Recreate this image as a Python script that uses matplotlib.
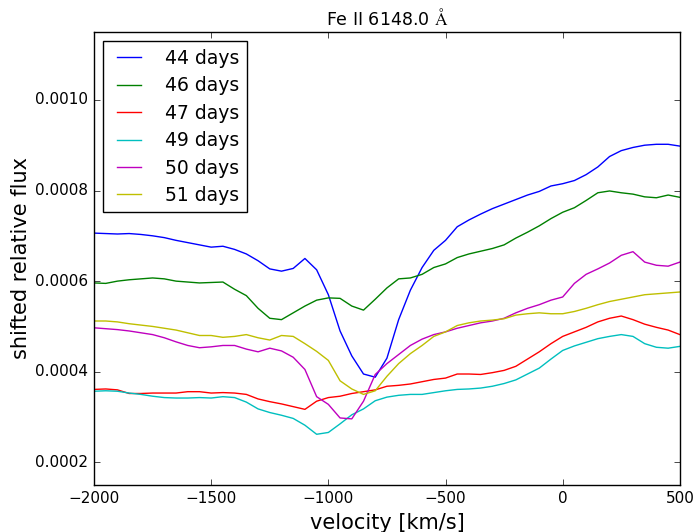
import numpy as np
import matplotlib
matplotlib.use("Agg")
import matplotlib.pyplot as plt

# velocity grid [km/s], flux values in units of 1e-4
velocity = np.arange(-2000, 501, 50)

flux_44 = [7.06, 7.05, 7.04, 7.05, 7.03, 7.00, 6.96, 6.90, 6.85, 6.80, 6.75, 6.77, 6.70,
           6.60, 6.45, 6.27, 6.22, 6.28, 6.50, 6.25, 5.70, 4.90, 4.35, 3.95, 3.88, 4.30,
           5.15, 5.80, 6.30, 6.68, 6.90, 7.20, 7.35, 7.48, 7.60, 7.70, 7.80, 7.90, 7.98,
           8.10, 8.15, 8.22, 8.35, 8.52, 8.75, 8.88, 8.95, 9.00, 9.02, 9.02, 8.98]
flux_46 = [5.96, 5.95, 6.00, 6.03, 6.05, 6.07, 6.05, 6.00, 5.98, 5.96, 5.97, 5.98, 5.82,
           5.68, 5.40, 5.18, 5.15, 5.30, 5.45, 5.58, 5.63, 5.62, 5.45, 5.36, 5.60, 5.85,
           6.05, 6.07, 6.15, 6.30, 6.38, 6.52, 6.60, 6.66, 6.72, 6.80, 6.95, 7.08, 7.22,
           7.38, 7.52, 7.62, 7.78, 7.95, 7.99, 7.95, 7.92, 7.86, 7.84, 7.90, 7.85]
flux_47 = [3.61, 3.62, 3.60, 3.52, 3.52, 3.53, 3.53, 3.53, 3.56, 3.56, 3.53, 3.54, 3.53,
           3.50, 3.40, 3.34, 3.29, 3.23, 3.17, 3.35, 3.43, 3.46, 3.52, 3.56, 3.60, 3.68,
           3.70, 3.73, 3.78, 3.83, 3.86, 3.95, 3.95, 3.94, 3.98, 4.03, 4.12, 4.28, 4.44,
           4.62, 4.78, 4.88, 4.98, 5.10, 5.18, 5.23, 5.15, 5.05, 4.98, 4.92, 4.82]
flux_49 = [3.57, 3.58, 3.57, 3.53, 3.50, 3.46, 3.43, 3.42, 3.42, 3.43, 3.42, 3.45, 3.43,
           3.33, 3.18, 3.10, 3.04, 2.97, 2.82, 2.62, 2.66, 2.85, 3.05, 3.18, 3.36, 3.44,
           3.48, 3.50, 3.50, 3.54, 3.58, 3.61, 3.62, 3.64, 3.68, 3.74, 3.82, 3.95, 4.08,
           4.28, 4.47, 4.57, 4.65, 4.73, 4.78, 4.82, 4.78, 4.62, 4.54, 4.52, 4.56]
flux_50 = [4.97, 4.95, 4.93, 4.90, 4.86, 4.82, 4.75, 4.66, 4.58, 4.53, 4.55, 4.58, 4.58,
           4.50, 4.44, 4.52, 4.46, 4.32, 4.05, 3.45, 3.28, 2.98, 2.96, 3.35, 3.94, 4.18,
           4.38, 4.58, 4.72, 4.82, 4.88, 4.96, 5.02, 5.08, 5.12, 5.18, 5.30, 5.40, 5.48,
           5.58, 5.65, 5.95, 6.15, 6.27, 6.40, 6.57, 6.65, 6.42, 6.35, 6.33, 6.42]
flux_51 = [5.12, 5.12, 5.10, 5.06, 5.03, 5.00, 4.96, 4.92, 4.86, 4.80, 4.80, 4.76, 4.78,
           4.82, 4.75, 4.70, 4.80, 4.78, 4.62, 4.45, 4.25, 3.80, 3.62, 3.50, 3.58, 3.90,
           4.18, 4.40, 4.58, 4.78, 4.88, 5.02, 5.08, 5.12, 5.14, 5.17, 5.25, 5.28, 5.30,
           5.28, 5.28, 5.33, 5.40, 5.48, 5.55, 5.60, 5.65, 5.70, 5.72, 5.74, 5.76]

labels = ["44 days", "46 days", "47 days", "49 days", "50 days", "51 days"]
colors = ["b", "g", "r", "c", "m", "y"]
series = [flux_44, flux_46, flux_47, flux_49, flux_50, flux_51]

plt.style.use("classic")
fig = plt.figure(figsize=(6.98, 5.32), dpi=100, facecolor="white")
ax = fig.add_axes([0.1347, 0.0883, 0.8393, 0.8517])

for flux, lab, col in zip(series, labels, colors):
    ax.plot(velocity, np.array(flux) * 1e-4, color=col, lw=1.0, label=lab)

ax.set_xlim(-2000, 500)
ax.set_ylim(0.00015, 0.00115)
ax.set_yticks([0.0002, 0.0004, 0.0006, 0.0008, 0.0010])
ax.set_yticklabels(["0.0002", "0.0004", "0.0006", "0.0008", "0.0010"])
ax.tick_params(labelsize=11)
ax.set_xlabel("velocity [km/s]", fontsize=15)
ax.set_ylabel("shifted relative flux", fontsize=15, labelpad=3)
ax.set_title(r"Fe II 6148.0 $\mathrm{\AA}$", fontsize=12.5)
ax.legend(loc="upper left", fontsize=13.5, handlelength=1.9, handletextpad=1.0,
          borderpad=0.4, labelspacing=0.45)

fig.savefig("out.png", dpi=100, facecolor="white")
